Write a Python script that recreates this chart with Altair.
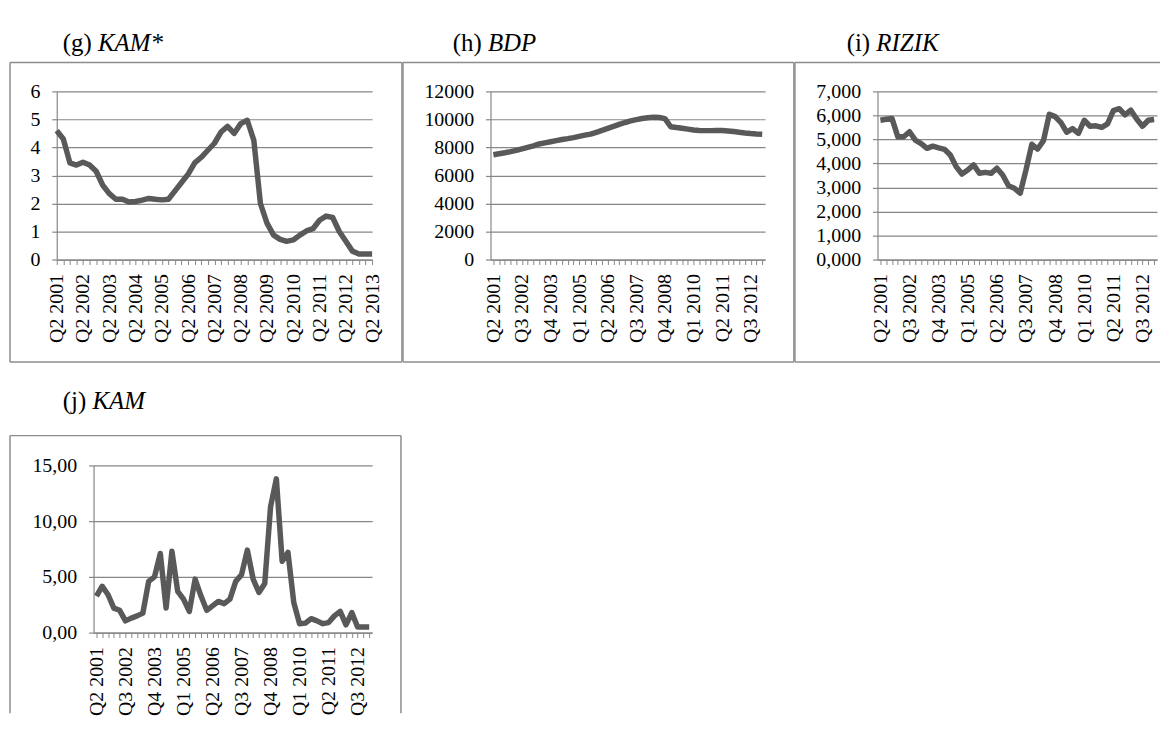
import json
import pandas as pd
import altair as alt

FONT = "Liberation Serif"
LINE_COLOR = "#595959"
GRID_COLOR = "#878787"
FRAME_COLOR = "#8c8c8c"
AX_FS = 20
TITLE_FS = 25


def quarters(n):
    out, y, q = [], 2001, 2
    for _ in range(n):
        out.append(f"Q{q} {y}")
        q += 1
        if q > 4:
            q, y = 1, y + 1
    return out


# categories
Q49 = quarters(49)   # Q2 2001 .. Q2 2013
Q48 = quarters(48)   # Q2 2001 .. Q1 2013

# shown tick labels
SHOWN_G = ["Q2 2001", "Q2 2002", "Q2 2003", "Q2 2004", "Q2 2005", "Q2 2006", "Q2 2007",
           "Q2 2008", "Q2 2009", "Q2 2010", "Q2 2011", "Q2 2012", "Q2 2013"]
SHOWN_5 = ["Q2 2001", "Q3 2002", "Q4 2003", "Q1 2005", "Q2 2006", "Q3 2007", "Q4 2008",
           "Q1 2010", "Q2 2011", "Q3 2012"]

# series values
KAM_STAR = [4.6, 4.3, 3.45, 3.37, 3.47, 3.37, 3.15, 2.65, 2.35, 2.15,
            2.15, 2.05, 2.07, 2.12, 2.18, 2.15, 2.13, 2.15, 2.45, 2.75,
            3.05, 3.45, 3.65, 3.9, 4.15, 4.55, 4.75, 4.5, 4.85, 4.97,
            4.25, 2.0, 1.3, 0.87, 0.72, 0.65, 0.7, 0.87, 1.02, 1.1,
            1.4, 1.55, 1.5, 1.0, 0.65, 0.3, 0.2, 0.2, 0.2]

BDP = [7480, 7550, 7620, 7700, 7790, 7900, 8010, 8120, 8250, 8330,
       8410, 8490, 8570, 8630, 8700, 8790, 8880, 8950, 9080, 9220,
       9360, 9500, 9650, 9780, 9900, 9990, 10070, 10120, 10150, 10140,
       10060, 9480, 9420, 9370, 9310, 9250, 9210, 9200, 9200, 9210,
       9210, 9180, 9140, 9080, 9030, 8990, 8960, 8940]

RIZIK = [5.80, 5.84, 5.87, 5.11, 5.11, 5.32, 4.97, 4.83, 4.63, 4.72,
         4.65, 4.59, 4.35, 3.87, 3.56, 3.73, 3.94, 3.59, 3.63, 3.59,
         3.80, 3.52, 3.07, 2.97, 2.76, 3.73, 4.80, 4.60, 4.95, 6.05,
         5.95, 5.70, 5.30, 5.45, 5.25, 5.80, 5.55, 5.57, 5.50, 5.65,
         6.20, 6.28, 6.02, 6.22, 5.85, 5.55, 5.80, 5.83]

KAM = [3.27, 4.16, 3.4, 2.2, 2.0, 1.05, 1.3, 1.5, 1.75, 4.6,
       5.0, 7.1, 2.2, 7.3, 3.7, 3.0, 1.9, 4.8, 3.3, 2.0,
       2.4, 2.8, 2.6, 3.0, 4.6, 5.2, 7.4, 4.8, 3.6, 4.4,
       11.3, 13.8, 6.4, 7.2, 2.7, 0.8, 0.85, 1.25, 1.05, 0.8,
       0.9, 1.5, 1.9, 0.7, 1.8, 0.5, 0.5, 0.5]

ONE = pd.DataFrame({"k": [0]})


def hrule(x1, x2, y):
    return alt.Chart(ONE).mark_rule(color=FRAME_COLOR, strokeWidth=1.5).encode(
        x=alt.value(x1), x2=alt.value(x2), y=alt.value(y))


def vrule(x, y1, y2):
    return alt.Chart(ONE).mark_rule(color=FRAME_COLOR, strokeWidth=1.5).encode(
        x=alt.value(x), y=alt.value(y1), y2=alt.value(y2))


def label(text, x, y, italic=False):
    kw = dict(text=text, align="left", baseline="middle", font=FONT,
              fontSize=TITLE_FS, color="black")
    if italic:
        kw["fontStyle"] = "italic"
    return alt.Chart(ONE).mark_text(**kw).encode(x=alt.value(x), y=alt.value(y))


def panel(cats, vals, shown, W, H, ymax, yvals, yfmt, pad, lines, tag, name,
          tx, ty, comma=False, xrange=None, yoffset=0):
    df = pd.DataFrame({"q": cats, "v": vals})
    xaxis = alt.Axis(
        title=None, labelAngle=270, labelFont=FONT, labelFontSize=AX_FS,
        labelColor="black", labelOverlap=False, labelPadding=9,
        labelExpr=f"indexof({json.dumps(shown)}, datum.value) >= 0 ? datum.label : ''",
        grid=False, domainColor=GRID_COLOR, domainWidth=1.2,
        tickColor=GRID_COLOR, tickSize=5, tickWidth=1)
    yaxis_kw = dict(
        title=None, values=yvals, format=yfmt, labelFont=FONT, labelFontSize=AX_FS,
        labelColor="black", labelPadding=12, grid=True, gridColor=GRID_COLOR,
        gridWidth=1.2, domainColor=GRID_COLOR, domainWidth=1.2,
        tickColor=GRID_COLOR, tickSize=5, tickWidth=1.2, offset=yoffset)
    if comma:
        yaxis_kw["labelExpr"] = "replace(datum.label, '.', ',')"
    xs_kw = dict(type="point", padding=pad)
    if xrange is not None:
        xs_kw["range"] = xrange
    line = alt.Chart(df).mark_line(
        color=LINE_COLOR, strokeWidth=5.5, strokeJoin="round").encode(
        x=alt.X("q:N", sort=None, scale=alt.Scale(**xs_kw), axis=xaxis),
        y=alt.Y("v:Q", scale=alt.Scale(domain=[0, ymax], nice=False, zero=True),
                axis=alt.Axis(**yaxis_kw)))
    tag_w = TITLE_FS * (0.916 + (0.278 if tag in ("(i)", "(j)") else 0.5))
    return alt.layer(
        line, *lines,
        label(tag, tx, ty), label(name, tx + tag_w, ty, italic=True)
    ).properties(width=W, height=H)


g = panel(Q49, KAM_STAR, SHOWN_G, 317, 169, 6, [0, 1, 2, 3, 4, 5, 6], "d", 0,
          [hrule(-47, 347, -29), hrule(-47, 347, 272), vrule(-47, -29, 272), vrule(347, -29, 272)],
          "(g)", "KAM*", 6, -49)

h = panel(Q48, BDP, SHOWN_5, 276, 169, 12000, [0, 2000, 4000, 6000, 8000, 10000, 12000],
          "d", 0.5,
          [hrule(-88, 305, -29), hrule(-88, 305, 272), vrule(-88, -29, 272), vrule(305, -29, 272)],
          "(h)", "BDP", -38, -49)

i = panel(Q48, RIZIK, SHOWN_5, 281, 169, 7, [0, 1, 2, 3, 4, 5, 6, 7], ".3f", 0.5,
          [hrule(-83, 284, -29), hrule(-83, 284, 272), vrule(-83, -29, 272)],
          "(i)", "RIZIK", -31, -49, comma=True)

# panel j shares the left origin of panel g; its plot starts 37px further right
j = panel(Q48, KAM, SHOWN_5, 317, 168, 15, [0, 5, 10, 15], ".2f", 0.5,
          [hrule(-47, 346, -30), vrule(-47, -30, 249), vrule(346, -30, 249)],
          "(j)", "KAM", 6, -65, comma=True, xrange=[37, 317], yoffset=-37)

row1 = alt.hconcat(g, h, i, spacing=-1, bounds="full")
row2 = alt.hconcat(j, spacing=0, bounds="full")

chart = alt.vconcat(row1, row2, spacing=26, bounds="full").properties(
    padding={"left": 1, "top": 21, "right": 0, "bottom": 0}
).configure_view(strokeWidth=0)

chart.save("out.html", embed_options={"renderer": "svg", "actions": False})
